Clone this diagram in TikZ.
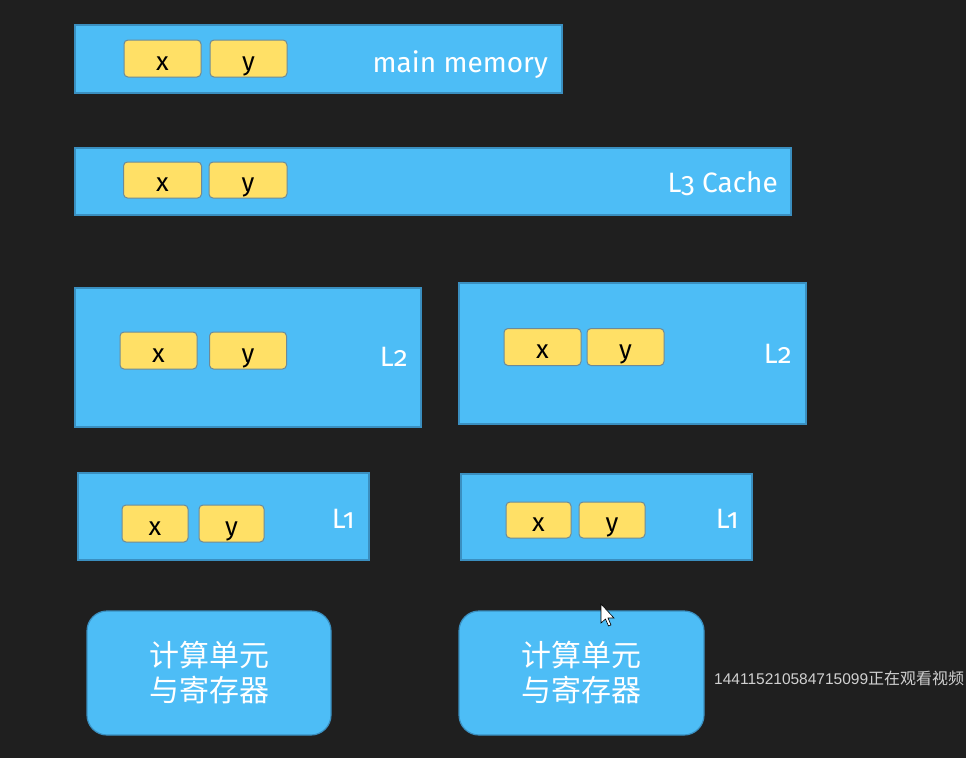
\documentclass[tikz,border=0pt]{standalone}
\usepackage{fontspec}
\setmainfont{Fira Sans}[Numbers=OldStyle]
\newfontfamily\cjk{Noto Sans CJK SC}
\newfontfamily\wmfont{Liberation Sans}
\definecolor{bg}{HTML}{1F1F1F}
\definecolor{cblue}{HTML}{4DBDF6}
\definecolor{cborder}{HTML}{3A8FC0}
\definecolor{vyellow}{HTML}{FFE066}
\definecolor{vborder}{HTML}{6E8A96}
\definecolor{wmgray}{HTML}{D0D0D0}
\begin{document}
\begin{tikzpicture}[x=1pt,y=-1pt,
  cache/.style={draw=cborder, fill=cblue, line width=1.2pt, rectangle, inner sep=0pt},
  var/.style={draw=vborder, fill=vyellow, rounded corners=4pt, line width=1pt, inner sep=0pt,
    minimum width=77pt, minimum height=37pt, text height=23pt, text depth=0pt,
    font=\fontsize{26}{26}\selectfont, text=black},
  lbl/.style={text=white, anchor=base east, inner sep=0pt, font=\fontsize{28}{28}\selectfont},
  cpu/.style={draw=cborder, fill=cblue, line width=1.2pt, rounded corners=20pt, inner sep=0pt,
    minimum width=244pt, minimum height=124pt, align=center, text=white,
    font=\cjk\fontsize{30}{35}\selectfont}]
\clip (0,0) rectangle (966,758);
\fill[bg] (0,0) rectangle (966,758);
% main memory
\node[cache, minimum width=487pt, minimum height=68pt] (mm) at (318.5,59) {};
\node[var] (mmx) at (162.5,58.5) {x};
\node[var] (mmy) at (248.5,58.5) {y};
\node[lbl] (mml) at (548,72) {main memory};
% L3
\node[cache, minimum width=716pt, minimum height=67pt] (l3) at (433,181.5) {};
\node[var, minimum width=78pt, minimum height=36pt] (l3x) at (162.5,180) {x};
\node[var, minimum width=78pt, minimum height=36pt] (l3y) at (248,180) {y};
\node[lbl] (l3l) at (778,192) {L3 Cache};
% L2
\node[cache, minimum width=346pt, minimum height=139pt] (l2a) at (248,357.5) {};
\node[var] (l2ax) at (158.5,350.5) {x};
\node[var] (l2ay) at (248,350.5) {y};
\node[lbl] (l2al) at (408,366) {L2};
\node[cache, minimum width=347pt, minimum height=141pt] (l2b) at (632.5,353.5) {};
\node[var] (l2bx) at (542.5,347) {x};
\node[var] (l2by) at (625.5,347) {y};
\node[lbl] (l2bl) at (792,363) {L2};
% L1
\node[cache, minimum width=291pt, minimum height=87pt] (l1a) at (223.5,516.5) {};
\node[var, minimum width=66pt] (l1ax) at (155,523.5) {x};
\node[var, minimum width=65pt] (l1ay) at (231.5,523.5) {y};
\node[lbl] (l1al) at (355,528) {L1};
\node[cache, minimum width=291pt, minimum height=86pt] (l1b) at (606.5,517) {};
\node[var, minimum width=65pt, minimum height=36pt] (l1bx) at (538.5,520) {x};
\node[var, minimum width=66pt, minimum height=36pt] (l1by) at (612,520) {y};
\node[lbl] (l1bl) at (739,528) {L1};
% compute units
\node[cpu] (cpua) at (209,673) {计算单元\\与寄存器};
\node[cpu, minimum width=245pt] (cpub) at (581.5,673) {计算单元\\与寄存器};
% watermark
\node[anchor=west, inner sep=0pt, text=wmgray, font=\wmfont\fontsize{15.5}{15.5}\selectfont] (wm) at (714,678) {144115210584715099{\cjk\fontsize{16}{16}\selectfont 正在观看视频}};
% cursor
\filldraw[fill=white, draw=black, line width=0.6pt] (601,604) -- (601,623) -- (605.5,619) -- (608.5,626) -- (611,625) -- (608,618) -- (614,618) -- cycle;
\end{tikzpicture}
\end{document}
